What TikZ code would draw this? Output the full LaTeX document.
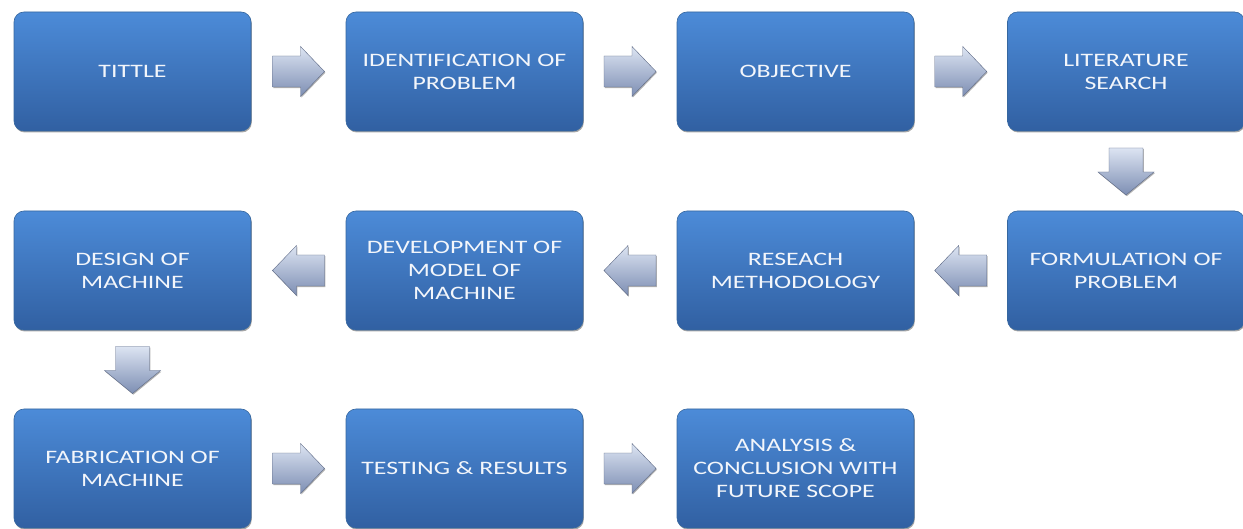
\documentclass[tikz,border=0pt]{standalone}
\usepackage{fontspec}
\newfontfamily\boxfont[FakeStretch=1.36]{Carlito}
\usetikzlibrary{shadows,calc}
\definecolor{boxtop}{HTML}{4C8BD8}
\definecolor{boxbot}{HTML}{3160A2}
\definecolor{boxline}{HTML}{36679F}
\definecolor{arrtop}{HTML}{DCE4F2}
\definecolor{arrbot}{HTML}{7D8EB3}
\definecolor{txt}{HTML}{F3F6FB}
\tikzset{
  stepbox/.style={draw=boxline, line width=0.6pt, rounded corners=10pt,
    top color=boxtop, bottom color=boxbot,
    minimum width=237pt, minimum height=119pt, align=center,
    text=txt, font=\boxfont\fontsize{19}{23}\selectfont,
    drop shadow={shadow xshift=0.8pt, shadow yshift=-1.5pt, fill=black, opacity=0.35}},
  blockarrow/.style={draw=arrbot!75!black, line width=0.4pt, line join=miter,
    top color=arrtop, bottom color=arrbot,
    drop shadow={shadow xshift=0.8pt, shadow yshift=-1.2pt, fill=black, opacity=0.3}},
  pics/rarrow/.style={code={\path[blockarrow] (-26,-15.5) -- (2,-15.5) -- (2,-25) -- (26,0) -- (2,25) -- (2,15.5) -- (-26,15.5) -- cycle;}},
  pics/larrow/.style={code={\path[blockarrow] (26,-15.5) -- (-2,-15.5) -- (-2,-25) -- (-26,0) -- (-2,25) -- (-2,15.5) -- (26,15.5) -- cycle;}},
  pics/darrow/.style={code={\path[blockarrow] (-17,-23) -- (17,-23) -- (17,1) -- (28,1) -- (0,24) -- (-28,1) -- (-17,1) -- cycle;}},
}
\begin{document}
\begin{tikzpicture}[x=1pt,y=-1pt]
\useasboundingbox (0,0) rectangle (1243,529);
\fill[white] (0,0) rectangle (1243,529);
% row 1
\node[stepbox] (t)  at (132.5,71.5) {TITTLE};
\node[stepbox] (ip) at (464.5,71.5) {IDENTIFICATION OF\\PROBLEM};
\node[stepbox] (ob) at (795.5,71.5) {OBJECTIVE};
\node[stepbox] (ls) at (1126,71.5) {LITERATURE\\SEARCH};
% row 2
\node[stepbox] (fp) at (1126,270.5) {FORMULATION OF\\PROBLEM};
\node[stepbox] (rm) at (795.5,270.5) {RESEACH\\METHODOLOGY};
\node[stepbox] (dm) at (464.5,270.5) {DEVELOPMENT OF\\MODEL OF\\MACHINE};
\node[stepbox] (de) at (132.5,270.5) {DESIGN OF\\MACHINE};
% row 3
\node[stepbox] (fa) at (132.5,468.5) {FABRICATION OF\\MACHINE};
\node[stepbox] (tr) at (464.5,468.5) {TESTING \& RESULTS};
\node[stepbox] (an) at (795.5,468.5) {ANALYSIS \&\\CONCLUSION WITH\\FUTURE SCOPE};
% arrows
\pic at ($(t.east)!0.5!(ip.west)$) {rarrow};
\pic at ($(ip.east)!0.5!(ob.west)$) {rarrow};
\pic at ($(ob.east)!0.5!(ls.west)$) {rarrow};
\pic at ($(ls.south)!0.5!(fp.north)$) {darrow};
\pic at ($(fp.west)!0.5!(rm.east)$) {larrow};
\pic at ($(rm.west)!0.5!(dm.east)$) {larrow};
\pic at ($(dm.west)!0.5!(de.east)$) {larrow};
\pic at ($(de.south)!0.5!(fa.north)$) {darrow};
\pic at ($(fa.east)!0.5!(tr.west)$) {rarrow};
\pic at ($(tr.east)!0.5!(an.west)$) {rarrow};
\end{tikzpicture}
\end{document}
